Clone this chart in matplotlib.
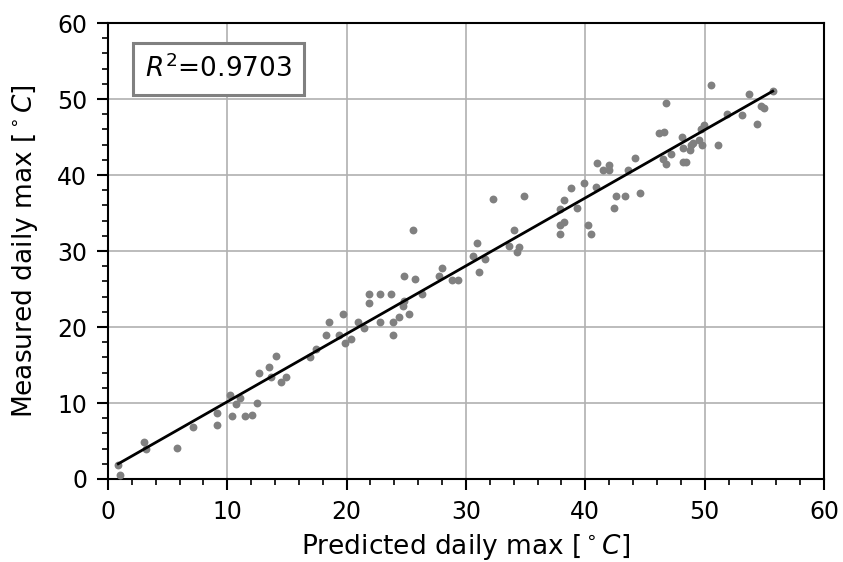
import numpy as np
import matplotlib.pyplot as plt
from matplotlib.ticker import MultipleLocator

# predicted vs measured daily max
predicted = [0.87, 1.0, 3.05, 3.15, 5.8, 7.15, 9.1, 9.1, 10.2, 10.37, 10.75, 11.06,
             11.5, 12.1, 12.5, 12.7, 13.5, 13.7, 14.1, 14.5, 14.9,
             16.9, 17.4, 18.3, 18.5, 19.36, 19.67, 19.9, 20.4, 20.95, 21.45, 21.85,
             21.85, 22.8, 22.8, 23.7, 23.9, 23.9, 24.4, 24.7, 24.8, 24.8, 25.25,
             25.56, 25.7, 26.3, 27.7, 28.0, 28.8, 29.3, 30.6, 30.9, 31.1, 31.6,
             32.26, 33.6, 34.0, 34.3, 34.45, 34.9, 37.9, 37.9, 37.9, 38.2, 38.2,
             38.8, 39.3, 39.9, 40.2, 40.5, 40.9, 41.0, 41.45, 41.96, 41.96, 42.4,
             42.6, 43.3, 43.55, 44.2, 44.6, 46.2, 46.6, 46.8, 46.5, 46.76, 47.15,
             48.1, 48.2, 48.2, 48.4, 48.8, 48.85, 49.05, 49.5, 49.7, 49.95, 49.8,
             50.5, 51.1, 51.9, 53.1, 53.7, 54.4, 54.7, 55.0, 55.7]
measured = [1.84, 0.5, 4.9, 3.9, 4.1, 6.9, 8.7, 7.1, 11.1, 8.3, 9.9, 10.7,
            8.3, 8.4, 10.0, 13.9, 14.8, 13.4, 16.2, 12.7, 13.4,
            16.1, 17.1, 19.0, 20.7, 19.0, 21.7, 17.85, 18.4, 20.6, 19.9, 24.4,
            23.2, 20.7, 24.4, 24.4, 20.6, 19.0, 21.3, 22.7, 26.75, 23.4, 21.75,
            32.7, 26.3, 24.4, 26.75, 27.8, 26.2, 26.2, 29.3, 31.05, 27.2, 29.0,
            36.8, 30.6, 32.7, 29.9, 30.5, 37.3, 32.3, 33.4, 35.5, 33.8, 36.75,
            38.25, 35.7, 38.9, 33.4, 32.2, 38.4, 41.6, 40.7, 41.3, 40.6, 35.6,
            37.2, 37.2, 40.7, 42.2, 37.7, 45.5, 45.6, 49.5, 42.1, 41.45, 42.8,
            45.0, 43.5, 41.7, 41.7, 43.3, 43.9, 44.2, 44.6, 46.1, 46.6, 43.9,
            51.8, 43.9, 48.0, 47.9, 50.6, 46.7, 49.1, 48.8, 51.05]
r2_text = r'$R^2$=0.9703'

x = np.array(predicted)
y = np.array(measured)
a, b = np.polyfit(x, y, 1)
xl = np.array([x.min(), x.max()])

fig = plt.figure(figsize=(8.43, 5.62), dpi=100)
ax = fig.add_axes([0.128, 0.1477, 0.8495, 0.8113])
ax.scatter(x, y, s=32, color='gray', zorder=3, linewidths=0)
ax.plot(xl, a * xl + b, color='black', lw=2, zorder=4)

ax.set(xlim=[0, 60], ylim=[0, 60])
ax.xaxis.set_major_locator(MultipleLocator(10))
ax.yaxis.set_major_locator(MultipleLocator(10))
ax.xaxis.set_minor_locator(MultipleLocator(2))
ax.yaxis.set_minor_locator(MultipleLocator(2))
ax.grid(which='major', color='#b0b0b0', lw=1.2)
ax.set_axisbelow(True)
ax.tick_params(axis='both', which='major', labelsize=17, length=8, width=1.5, pad=7)
ax.tick_params(axis='both', which='minor', length=4.5, width=1.2)
for s in ax.spines.values():
    s.set_linewidth(1.5)
ax.set_xlabel(r'Predicted daily max [$^\circ C$]', fontsize=19, labelpad=6)
ax.set_ylabel(r'Measured daily max [$^\circ C$]', fontsize=19, labelpad=12)

ax.text(0.154, 0.899, r2_text, transform=ax.transAxes, fontsize=19,
        ha='center', va='center',
        bbox=dict(boxstyle='square,pad=0.45', fc='white', ec='gray', lw=2.2))

plt.savefig('out.png', dpi=100)
